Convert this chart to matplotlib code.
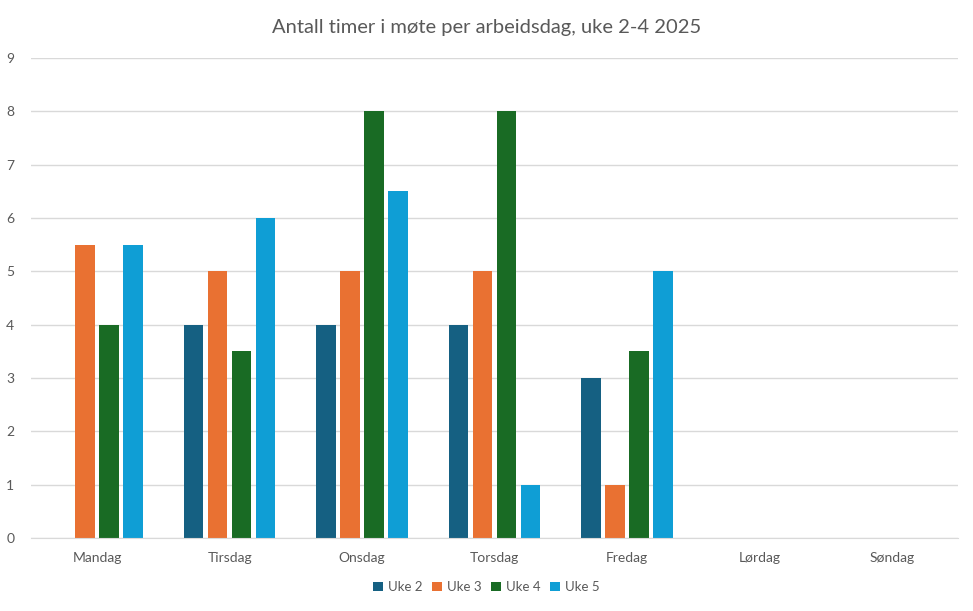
import matplotlib
matplotlib.use("Agg")
import matplotlib.pyplot as plt
import numpy as np

days = ["Mandag", "Tirsdag", "Onsdag", "Torsdag", "Fredag", "Lørdag", "Søndag"]
series_names = ["Uke 2", "Uke 3", "Uke 4", "Uke 5"]
uke2 = [0, 4, 4, 4, 3, 0, 0]
uke3 = [5.5, 5, 5, 5, 1, 0, 0]
uke4 = [4, 3.5, 8, 8, 3.5, 0, 0]
uke5 = [5.5, 6, 6.5, 1, 5, 0, 0]
colors = ["#156082", "#E97132", "#196B24", "#0F9ED5"]
title = "Antall timer i møte per arbeidsdag, uke 2-4 2025"

plt.rcParams['font.family'] = ['Lato', 'DejaVu Sans']
fig = plt.figure(figsize=(9.73, 6.11), dpi=100)
ax = fig.add_axes([31/973, 1-538/611, (958-31)/973, (538-58)/611])

x = np.arange(len(days))
slot = 0.181
barw = 0.147
for i, (vals, c, name) in enumerate(zip([uke2, uke3, uke4, uke5], colors, series_names)):
    ax.bar(x + (i - 1.5) * slot, vals, width=barw, color=c, linewidth=0,
           label=name, zorder=3)

ax.set_xlim(-0.5, len(days) - 0.5)
ax.set_ylim(0, 9)
ax.set_yticks(range(0, 10))
ax.set_xticks(x)
ax.set_xticklabels(days)
ax.grid(axis="y", color="#D9D9D9", linewidth=1, zorder=0)
for s in ["top", "right", "left"]:
    ax.spines[s].set_visible(False)
ax.spines["bottom"].set_color("#D9D9D9")
ax.spines["bottom"].set_zorder(4)
ax.tick_params(axis="both", length=0, colors="#595959", labelsize=10)
ax.tick_params(axis="x", pad=10)
ax.tick_params(axis="y", pad=12)

fig.text(0.5, 1 - 27/611, title, ha="center", va="center", fontsize=14.5, color="#595959")
fig.legend(loc="center", bbox_to_anchor=(0.5, 1 - 587/611), ncol=4, frameon=False,
           fontsize=9.5, handlelength=0.75, handleheight=0.6, handletextpad=0.4,
           columnspacing=0.7, labelcolor="#595959")

fig.savefig("out.png", dpi=100, facecolor="white")
